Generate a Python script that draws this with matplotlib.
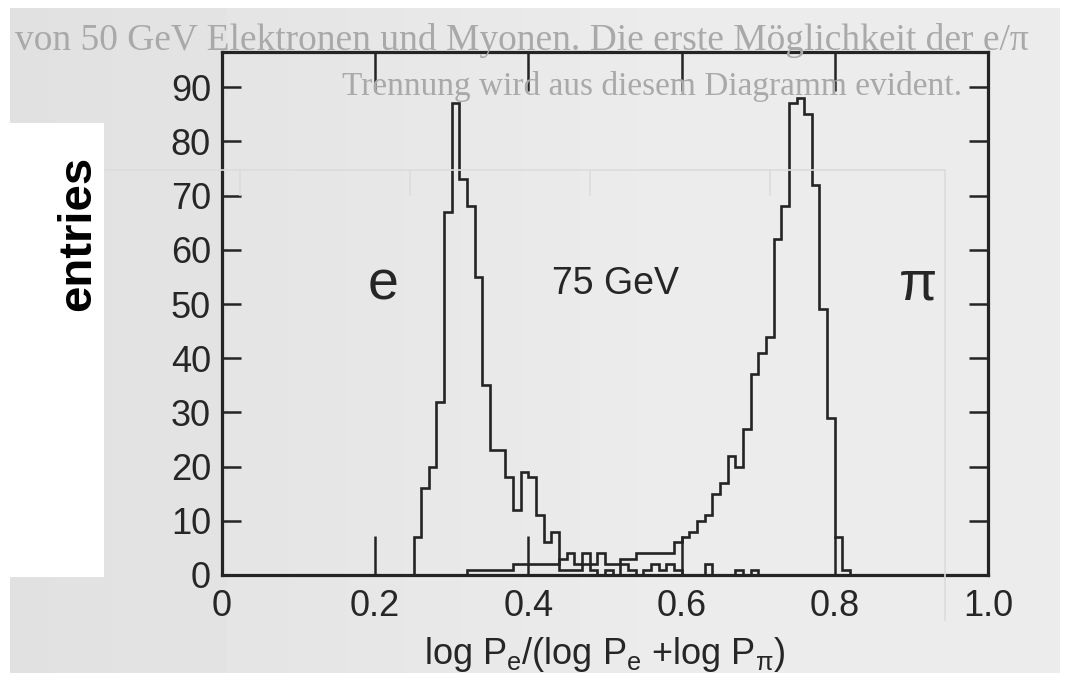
import numpy as np
import matplotlib.pyplot as plt
from matplotlib.patches import Rectangle

plt.rcParams['font.family'] = ['Liberation Sans', 'DejaVu Sans']
plt.rcParams['mathtext.default'] = 'regular'

# counts per 0.01 bin of log Pe/(log Pe + log Ppi), 75 GeV test beam
e_start = 0.25
e_counts = [7, 16, 20, 32, 67, 87, 73, 68, 55, 35,
            23, 23, 18, 12, 19, 18, 11, 6, 8, 1,
            1, 1, 2, 1, 0, 1, 0, 2, 1, 0,
            1, 2, 1, 2, 1, 0, 0, 0, 2, 0,
            0, 0, 1, 0, 1]
pi_start = 0.32
pi_counts = [1, 1, 1, 1, 1, 1, 2, 2, 2, 2,
             2, 2, 3, 4, 2, 4, 2, 4, 2, 2,
             3, 3, 4, 4, 4, 4, 4, 6, 7, 8,
             10, 11, 15, 17, 22, 20, 27, 37, 41, 44,
             62, 68, 87, 88, 85, 72, 49, 29, 7, 1]
bin_width = 0.01

xticks = [0, 0.2, 0.4, 0.6, 0.8, 1.0]
xtick_labels = ['0', '0.2', '0.4', '0.6', '0.8', '1.0']
yticks = list(range(0, 100, 10))

ink = '#242424'
serif = ['Liberation Serif', 'DejaVu Serif']

fig = plt.figure(figsize=(10.75, 6.85), dpi=100)
fig.patch.set_facecolor('white')

# scanned page background, a little darker towards the left edge
bg = fig.add_axes([10/1075, 12/685, 1050/1075, 665/685])
bg.axis('off')
grad = np.minimum(np.linspace(0.88, 0.95, 256), 0.925)[None, :]
bg.imshow(grad, cmap='gray', vmin=0, vmax=1, aspect='auto', extent=[0, 1, 0, 1])
bg.set_xlim(0, 1)
bg.set_ylim(0, 1)

# print showing through from the neighbouring page
ghost = '#a9a9a9'
fig.text(15/1075, 1 - 40/685, 'von 50 GeV Elektronen und Myonen. Die erste Möglichkeit der e/π',
         fontsize=27, family=serif, color=ghost, va='center')
fig.text(342/1075, 1 - 86/685, 'Trennung wird aus diesem Diagramm evident.',
         fontsize=24, family=serif, color=ghost, va='center')

faint = '#dcdcdc'
fig.add_artist(plt.Line2D([105/1075, 945/1075], [1 - 170/685, 1 - 170/685],
                          transform=fig.transFigure, color=faint, lw=1.2, zorder=1))
fig.add_artist(plt.Line2D([945/1075, 945/1075], [1 - 170/685, 1 - 620/685],
                          transform=fig.transFigure, color=faint, lw=1.2, zorder=1))
for gx in [240, 410, 590, 770]:
    fig.add_artist(plt.Line2D([gx/1075, gx/1075], [1 - 170/685, 1 - 195/685],
                              transform=fig.transFigure, color=faint, lw=1.2, zorder=1))

# white label box on the left
fig.add_artist(Rectangle((0, 1 - 577/685), 104/1075, (577 - 123)/685,
                         transform=fig.transFigure, facecolor='white', edgecolor='none', zorder=2))
fig.text(78/1075, 1 - 233/685, 'entries', rotation=90, fontsize=34, fontweight='bold',
         color='black', ha='center', va='center', zorder=3)

ax = fig.add_axes([222/1075, 1 - 575/685, 766/1075, (575 - 52)/685])
ax.patch.set_alpha(0)

e_edges = e_start + bin_width * np.arange(len(e_counts) + 1)
pi_edges = pi_start + bin_width * np.arange(len(pi_counts) + 1)
ax.stairs(e_counts, e_edges, baseline=0, color=ink, lw=1.9)
ax.stairs(pi_counts, pi_edges, baseline=0, color=ink, lw=1.9)

ax.set_xlim(0, 1.0)
ax.set_ylim(0, 96.5)
ax.set_xticks(xticks)
ax.set_xticklabels(xtick_labels)
ax.set_yticks(yticks)

for sp in ax.spines.values():
    sp.set_linewidth(2.3)
    sp.set_color(ink)

ax.tick_params(direction='in', width=1.8, color=ink, labelcolor='#262626', labelsize=26)
ax.tick_params(axis='y', length=14, left=True, right=True, pad=8)
ax.tick_params(axis='x', length=28, top=True, bottom=True, pad=10)

ax.text(0.21, 53.5, 'e', fontsize=40, color='#262626', ha='center', va='center')
ax.text(0.514, 53.7, '75 GeV', fontsize=27, color='#262626', ha='center', va='center')
ax.text(0.909, 53.5, 'π', fontsize=40, color='#262626', ha='center', va='center')

ax.set_xlabel(r'log $P_e$/(log $P_e$ +log $P_\pi$)', fontsize=26, color='#262626', labelpad=8)

fig.savefig('out.png', dpi=100)
